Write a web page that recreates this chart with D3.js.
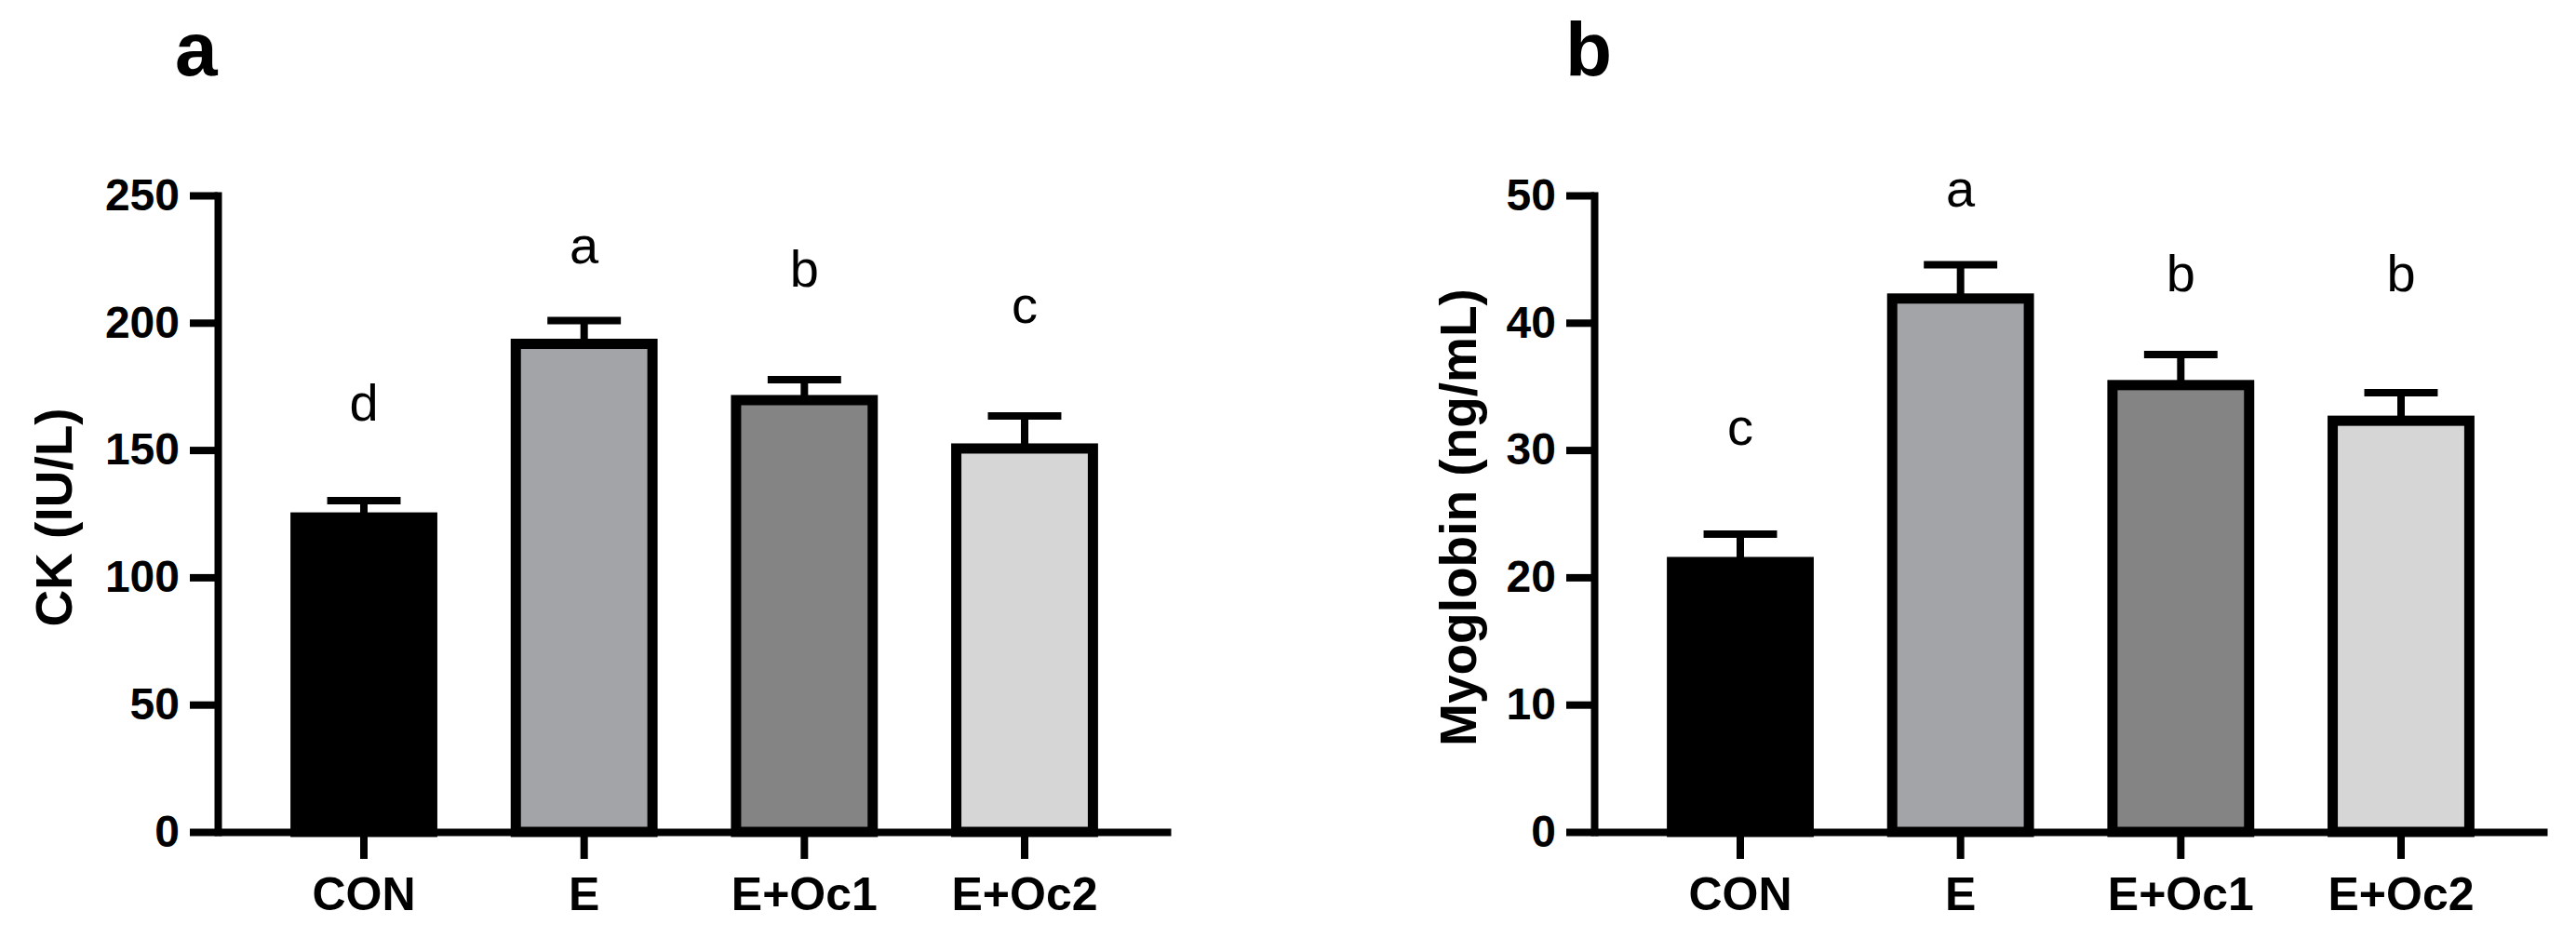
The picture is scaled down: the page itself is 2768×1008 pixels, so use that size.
<!DOCTYPE html>
<html>
<head>
<meta charset="utf-8">
<script src="https://cdn.jsdelivr.net/npm/d3@7"></script>
<style>
  body { margin: 0; background: #fff; }
  text { font-family: Arial, "Liberation Sans", sans-serif; }
</style>
</head>
<body>
<div id="chart"></div>
<script>
// groups on the x axis, shared by both panels
const groups = ["CON", "E", "E+Oc1", "E+Oc2"];
const barColors = ["#000000", "#a3a4a8", "#848484", "#d6d6d6"];

// panel a: CK (IU/L)
const ckTicks = [0, 50, 100, 150, 200, 250];
const ckMean = [123.5, 191.7, 169.6, 150.6];
const ckSem = [6.6, 9.1, 8.0, 12.8];
const ckLetters = ["d", "a", "b", "c"];
const ckLetterAt = [161.5, 223.3, 214.2, 200];

// panel b: Myoglobin (ng/mL)
const myoTicks = [0, 10, 20, 30, 40, 50];
const myoMean = [21.2, 41.9, 35.1, 32.3];
const myoSem = [2.2, 2.65, 2.4, 2.2];
const myoLetters = ["c", "a", "b", "b"];
const myoLetterAt = [30.4, 49.1, 42.5, 42.5];

const width = 2768,
      height = 1008;

const svg = d3.select("#chart")
  .append("svg")
    .attr("width", width)
    .attr("height", height)
    .style("display", "block");

function drawPanel(p) {
  const y = d3.scaleLinear()
    .domain([0, d3.max(p.ticks)])
    .range([894, 210]);
  const x = d3.scaleBand()
    .domain(groups)
    .range([p.left, p.left + 1024])
    .paddingInner(0.333)
    .paddingOuter(0.33);

  const sw = 11; // bar outline
  const rows = groups.map((g, i) => ({
    g, mean: p.means[i], sem: p.sems[i], letter: p.letters[i], at: p.letterAt[i], color: barColors[i]
  }));

  // bars
  svg.append("g").selectAll("rect")
    .data(rows)
    .enter()
    .append("rect")
      .attr("x", d => x(d.g) + sw / 2)
      .attr("y", d => y(d.mean))
      .attr("width", x.bandwidth() - sw)
      .attr("height", d => y(0) - y(d.mean))
      .attr("fill", d => d.color)
      .attr("stroke", "#000")
      .attr("stroke-width", sw);

  // error bars (upper only)
  const err = svg.append("g")
    .attr("stroke", "#000")
    .attr("stroke-width", 8);
  err.selectAll(".stem")
    .data(rows)
    .enter()
    .append("line")
      .attr("x1", d => x(d.g) + x.bandwidth() / 2)
      .attr("x2", d => x(d.g) + x.bandwidth() / 2)
      .attr("y1", d => y(d.mean))
      .attr("y2", d => y(d.mean + d.sem));
  err.selectAll(".cap")
    .data(rows)
    .enter()
    .append("line")
      .attr("x1", d => x(d.g) + x.bandwidth() / 4)
      .attr("x2", d => x(d.g) + x.bandwidth() * 3 / 4)
      .attr("y1", d => y(d.mean + d.sem))
      .attr("y2", d => y(d.mean + d.sem));

  // significance letters
  svg.append("g").selectAll("text")
    .data(rows)
    .enter()
    .append("text")
      .attr("x", d => x(d.g) + x.bandwidth() / 2)
      .attr("y", d => y(d.at))
      .attr("text-anchor", "middle")
      .attr("font-size", 56)
      .text(d => d.letter);

  // axes
  const yAxis = svg.append("g")
    .attr("transform", `translate(${p.left},0)`)
    .call(d3.axisLeft(y).tickValues(p.ticks).tickSize(30).tickSizeOuter(0).tickPadding(11));
  yAxis.select(".domain")
    .attr("stroke-width", 8)
    .attr("stroke-linecap", "square");
  yAxis.selectAll(".tick line").attr("stroke-width", 8);
  yAxis.selectAll(".tick text")
    .attr("font-size", 48)
    .attr("font-weight", "bold")
    .attr("fill", "#000");

  const xAxis = svg.append("g")
    .attr("transform", `translate(0,${y(0)})`)
    .call(d3.axisBottom(x).tickSize(29).tickSizeOuter(0).tickPadding(19));
  xAxis.select(".domain").attr("stroke-width", 8);
  xAxis.selectAll(".tick line").attr("stroke-width", 8);
  xAxis.selectAll(".tick text")
    .attr("font-size", 50)
    .attr("font-weight", "bold")
    .attr("fill", "#000");

  // axis title
  svg.append("text")
    .attr("transform", `translate(${p.titleX},556) rotate(-90)`)
    .attr("text-anchor", "middle")
    .attr("font-size", 55)
    .attr("font-weight", "bold")
    .text(p.title);

  // panel tag
  svg.append("text")
    .attr("x", p.tagX)
    .attr("y", 81)
    .attr("font-size", 82)
    .attr("font-weight", "bold")
    .text(p.tag);
}

drawPanel({
  left: 234, ticks: ckTicks, means: ckMean, sems: ckSem,
  letters: ckLetters, letterAt: ckLetterAt,
  title: "CK (IU/L)", titleX: 77, tag: "a", tagX: 188
});
drawPanel({
  left: 1713, ticks: myoTicks, means: myoMean, sems: myoSem,
  letters: myoLetters, letterAt: myoLetterAt,
  title: "Myoglobin (ng/mL)", titleX: 1586, tag: "b", tagX: 1682
});
</script>
</body>
</html>
